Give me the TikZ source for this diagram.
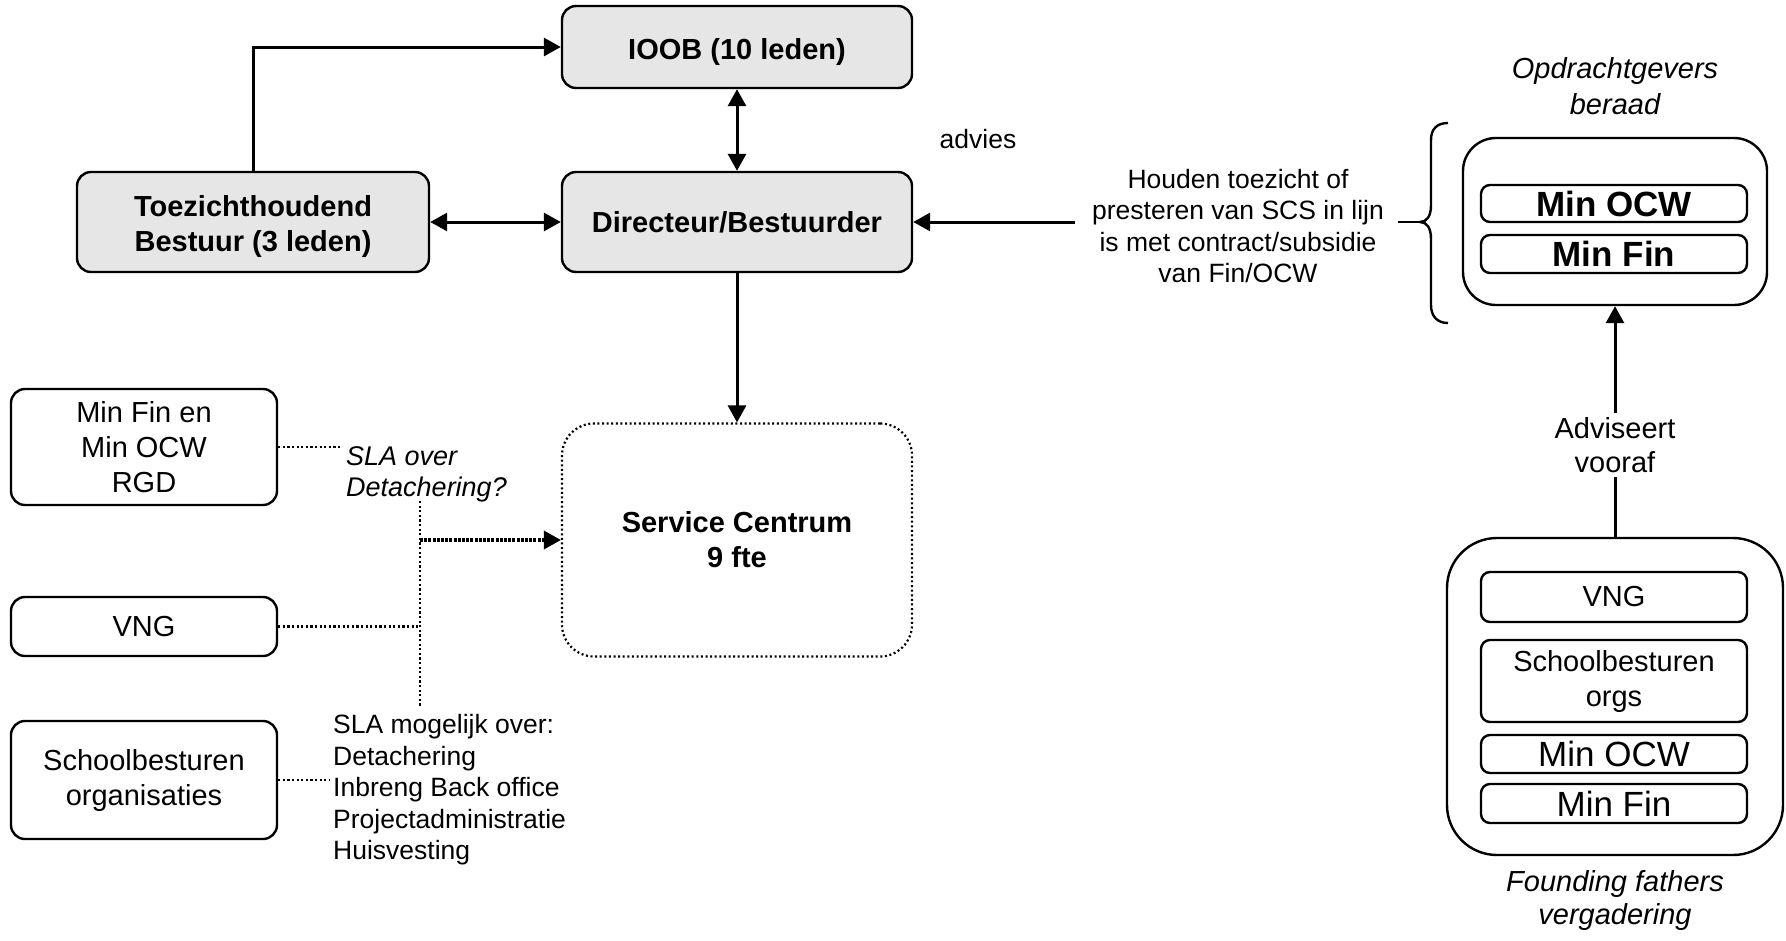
\documentclass[tikz,border=0pt]{standalone}
\usepackage{fontspec}
\setmainfont{Liberation Sans}
\usetikzlibrary{arrows.meta}
\definecolor{boxgray}{HTML}{E6E6E6}
\begin{document}
\begin{tikzpicture}[x=1pt,y=-1pt,
  box/.style={draw, line width=2.4pt, rounded corners=14pt, align=center, inner sep=0pt, font=\fontsize{29}{35}\selectfont},
  graybox/.style={box, fill=boxgray, font=\bfseries\fontsize{29}{35}\selectfont},
  inbox/.style={draw, line width=2.4pt, rounded corners=9pt, align=center, inner sep=0pt, minimum width=266pt},
  lbl/.style={align=center, inner sep=0pt, font=\fontsize{26.5}{31.5}\selectfont},
  tip/.tip={Triangle[length=17pt,width=18pt]},
  arr/.style={line width=3pt, -tip},
  darr/.style={line width=3pt, tip-tip},
  dots/.style={line width=2.6pt, dash pattern=on 2.2pt off 2.4pt},
]
\useasboundingbox (0,0) rectangle (1786,940);

% main boxes
\node[graybox, minimum width=350pt, minimum height=82pt] (ioob) at (737,47) {\rule{0pt}{31pt}IOOB (10 leden)};
\node[graybox, minimum width=350pt, minimum height=100pt] (dir) at (737,222) {Directeur/Bestuurder};
\node[graybox, minimum width=352pt, minimum height=100pt] (tz) at (253,222) {\rule{0pt}{30pt}Toezichthoudend\\Bestuur (3 leden)};
\node[draw, line width=2.2pt, dash pattern=on 2pt off 2.6pt, rounded corners=32pt,
      minimum width=350pt, minimum height=233pt, align=center, inner sep=0pt,
      font=\bfseries\fontsize{29}{35}\selectfont] (sc) at (737,540) {Service Centrum\\9 fte};

% left boxes
\node[box, minimum width=266pt, minimum height=116pt] (mf) at (144,447) {Min Fin en\\Min OCW\\RGD};
\node[box, minimum width=266pt, minimum height=59pt] (vng) at (144,626.5) {VNG};
\node[box, minimum width=266pt, minimum height=118pt] (sb) at (144,780) {Schoolbesturen\\organisaties};

% right groups
\node[draw, line width=2.4pt, rounded corners=33pt, minimum width=304pt, minimum height=167pt, inner sep=0pt] (od) at (1615,221.5) {};
\node[inbox, minimum height=37pt, font=\bfseries\fontsize{35}{40}\selectfont] (od1) at (1614,203.5) {Min OCW};
\node[inbox, minimum height=38pt, font=\bfseries\fontsize{35}{40}\selectfont] (od2) at (1614,254) {Min Fin};
\node[align=center, inner sep=0pt, font=\itshape\fontsize{29}{36}\selectfont] (odl) at (1615,86) {Opdrachtgevers\\beraad};

\node[draw, line width=2.4pt, rounded corners=50pt, minimum width=336pt, minimum height=317pt, inner sep=0pt] (fd) at (1615,696.5) {};
\node[inbox, minimum height=50pt, font=\fontsize{29}{35}\selectfont] (fd1) at (1614,597) {VNG};
\node[inbox, minimum height=82pt, font=\fontsize{29}{35}\selectfont] (fd2) at (1614,681) {Schoolbesturen\\orgs};
\node[inbox, minimum height=38pt, font=\fontsize{35}{40}\selectfont] (fd3) at (1614,754) {Min OCW};
\node[inbox, minimum height=39pt, font=\fontsize{35}{40}\selectfont] (fd4) at (1614,803.5) {Min Fin};
\node[align=center, inner sep=0pt, font=\itshape\fontsize{29}{33}\selectfont] (fdl) at (1615,900) {Founding fathers\\vergadering};

% labels
\node[lbl] (adv) at (978,139) {advies};
\node[lbl] (houd) at (1238,226) {Houden toezicht of\\presteren van SCS in lijn\\is met contract/subsidie\\van Fin/OCW};
\node[align=center, fill=white, inner sep=4pt, font=\fontsize{29}{34}\selectfont] (avv) at (1615,445) {Adviseert\\vooraf};
\node[anchor=west, align=left, inner sep=0pt, font=\itshape\fontsize{27}{31}\selectfont] (sla1) at (346,474) {SLA over\\Detachering?};
\node[anchor=west, align=left, inner sep=0pt, font=\fontsize{26.5}{31.5}\selectfont] (sla2) at (333,790) {SLA mogelijk over:\\Detachering\\Inbreng Back office\\Projectadministratie\\Huisvesting};

% connectors
\draw[arr] (tz.north) |- (ioob.west);
\draw[darr] (ioob.south) -- (dir.north);
\draw[darr] (tz.east) -- (dir.west);
\draw[arr] (dir.south) -- (sc.north);

\coordinate (hstart) at (1075,222);
\draw[arr] (hstart) -- (dir.east |- hstart);

% brace
\coordinate (btip) at (1420,222);
\coordinate (bstub) at (1398,222);
\draw[line width=2.4pt] (bstub) -- (btip);
\draw[line width=2.4pt] (1448,123) .. controls (1437,123) and (1431,129) .. (1431,140) -- (1431,205)
  .. controls (1431,216) and (1427,222) .. (btip)
  .. controls (1427,222) and (1431,228) .. (1431,239) -- (1431,305)
  .. controls (1431,316) and (1437,323) .. (1448,323);

% advies arrow (founding -> opdracht)
\draw[line width=3pt] (fd.north) -- (avv.south);
\draw[arr] (avv.north) -- (od.south);

% dotted SLA connectors
\coordinate (vtop) at (420,501);
\coordinate (vbot) at (420,706);
\coordinate (mfend) at (342,447);
\coordinate (sbend) at (330,780);
\draw[dots] (vtop) -- (vbot);
\draw[dots] (mf.east) -- (mfend);
\draw[dots] (vng.east) -- (vng.east -| vtop);
\draw[dots] (sb.east) -- (sbend);
\coordinate (harr) at (420,540);
\draw[line width=3.4pt, dash pattern=on 3pt off 1.2pt, -tip] (harr) -- (sc.west);
\end{tikzpicture}
\end{document}
